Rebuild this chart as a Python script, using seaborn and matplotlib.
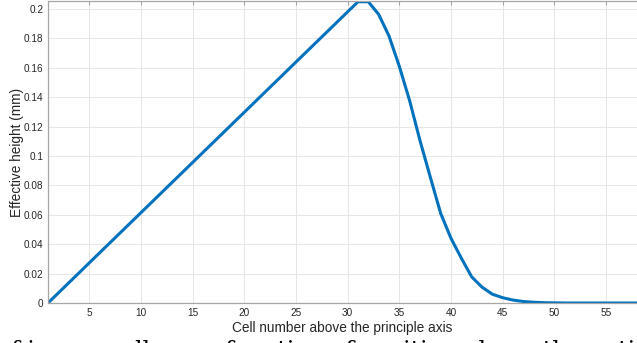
import numpy as np
import pandas as pd
import matplotlib
matplotlib.use("Agg")
import matplotlib.pyplot as plt
import seaborn as sns

cells = list(range(1, 59))
rise = [0.205 * (c - 1) / 30 for c in range(1, 32)]  # straight segment from (1,0) to (31,0.205)
fall = [0.205, 0.1964, 0.1817, 0.161, 0.1376, 0.1105, 0.0856, 0.061, 0.044,
        0.0305, 0.0178, 0.0108, 0.006, 0.0036, 0.002, 0.001, 0.0005, 0.0002,
        0.0001, 0.0, 0.0, 0.0, 0.0, 0.0, 0.0, 0.0, 0.0]
height = rise + fall
xticks = [5, 10, 15, 20, 25, 30, 35, 40, 45, 50, 55]
yticks = [0, 0.02, 0.04, 0.06, 0.08, 0.1, 0.12, 0.14, 0.16, 0.18, 0.2]
ytick_labels = ["0", "0.02", "0.04", "0.06", "0.08", "0.1", "0.12", "0.14", "0.16", "0.18", "0.2"]

df = pd.DataFrame({"cell": cells, "height": height})

sns.set_style("white")
plt.rcParams['font.family'] = ['Liberation Sans', 'DejaVu Sans']

fig = plt.figure(figsize=(6.37, 3.43), dpi=100)
ax = fig.add_axes([48/637, 1 - 303/343, 1 - 48/637, 302/343])

sns.lineplot(data=df, x="cell", y="height", ax=ax, color="#0072BD", linewidth=2.2)

ax.set_xlim(1, 58)
ax.set_ylim(0, 0.2055)
ax.set_xticks(xticks)
ax.set_yticks(yticks)
ax.set_yticklabels(ytick_labels)
ax.grid(True, color="#e6e6e6", linewidth=0.7)
ax.set_axisbelow(True)
for s in ["left", "bottom", "top"]:
    ax.spines[s].set_color("#a6a6a6")
    ax.spines[s].set_linewidth(0.9)
ax.spines["right"].set_visible(False)
ax.tick_params(axis="both", direction="in", length=3, color="#a6a6a6",
               labelsize=7.2, labelcolor="#262626", top=True, pad=3.5)
ax.set_xlabel("Cell number above the principle axis", fontsize=9.8, color="#262626", labelpad=2)
ax.set_ylabel("Effective height (mm)", fontsize=9.8, color="#262626", labelpad=0)

fig.text(-0.004, 1 - 340/343, "of image cells as a function of position above the optic axis",
         family=["DejaVu Serif"], fontsize=17, color="black", ha="left", va="top")

fig.savefig("out.png", dpi=100)
